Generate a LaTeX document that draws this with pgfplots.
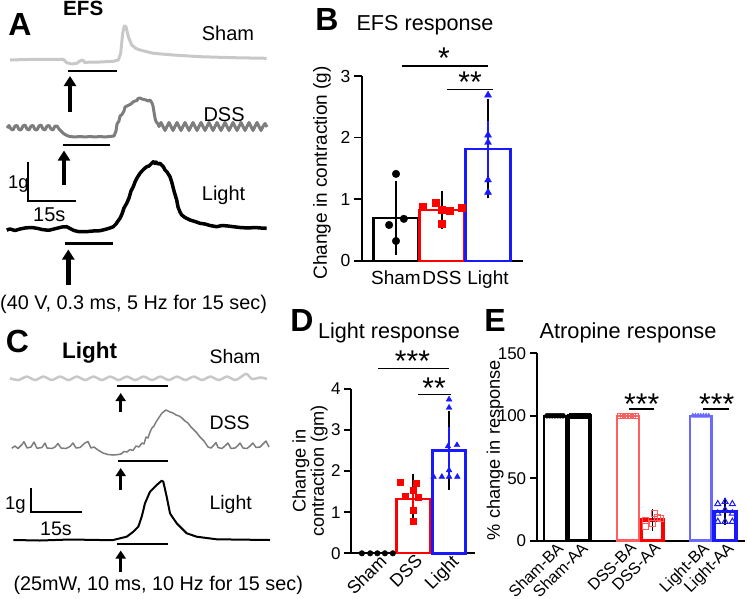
\documentclass[border=0pt]{standalone}
\usepackage{fontspec}
\setmainfont{Liberation Sans}
\usepackage{pgfplots}
\pgfplotsset{compat=1.18}
\usetikzlibrary{arrows.meta}
\definecolor{mred}{RGB}{255,0,0}
\definecolor{mblue}{RGB}{25,25,255}
\definecolor{lred}{RGB}{255,95,95}
\definecolor{lblue}{RGB}{105,105,255}
\definecolor{shamgray}{RGB}{200,200,200}
\definecolor{dssgray}{RGB}{125,125,125}
\newcommand{\fs}[1]{\fontsize{#1}{#1}\selectfont}
\begin{document}
\begin{tikzpicture}
\useasboundingbox (0pt,0pt) rectangle (747pt,598pt);

% ---------------- overlay axis in pixel coordinates (traces & annotations)
\begin{axis}[at={(0pt,0pt)}, anchor=south west, scale only axis,
  width=747pt, height=598pt, xmin=0, xmax=747, ymin=0, ymax=598,
  y dir=reverse, hide axis, clip=false]
% ===== Panel A traces
\addplot[shamgray, line width=3pt, line join=round] coordinates {
(10,60) (33,59.3) (63.3,59.3) (66.7,62.7) (71.7,64) (76.7,63.3) (80,61) (82.7,60) (85,62.7) (90,62) (100,62) (113.3,61.3) (118.3,60) (120.7,53.3) (122.7,33.3) (124.3,26) (126,26.7) (128.3,36.7) (131.7,45) (136,48.5) (140,50) (153.3,53.3) (173.3,55) (200,56.7) (233.3,57.7) (266.7,58.3)};
\addplot[dssgray, line width=3pt, line join=round] coordinates {
(7,128) (9,125.5) (11,129) (13,130) (15,126) (17,125.5) (19,129.5) (21,130) (23,126) (25,125) (27,129) (29,130) (31,126) (33,125.5) (35,129.5) (37,130) (39,126) (41,125) (43,129) (45,130) (47,126) (49,125.5) (51,129) (53,130) (55,126) (57,126) (59,129) (61,131) (63,133) (65,134.5) (67,135.5) (70,136.5) (75,137) (80,136.5) (85,137) (90,136.5) (95,137) (100,136.5) (105,137) (110,136.5) (114,136) (116,131) (117,124) (119,121) (120,116) (122,114.5) (124,111) (125,107) (127,106) (129,105) (131,104) (133,102) (135,101) (137,100.5) (138,98.5) (140,98) (142,99) (144,99.5) (146,100) (148,101) (150,100) (152,103) (153,106) (154,112) (155,118) (156,121.5) (158,124)
(159,126.5) (161,122.5) (163,126.5) (165,130.5) (167,126.5) (169,122.5) (171,126.5) (173,130.5) (175,126.5) (177,122.5) (179,126.5) (181,130.5) (183,126.5) (185,122.5) (187,126.5) (189,130.5) (191,126.5) (193,122.5) (195,126.5) (197,130.5) (199,126.5) (201,122.5) (203,126.5) (205,130.5) (207,126.5) (209,122.5) (211,126.5) (213,130.5) (215,126.5) (217,122.5) (219,126.5) (221,130.5) (223,126.5) (225,122.5) (227,126.5) (229,130.5) (231,126.5) (233,122.5) (235,126.5) (237,130.5) (239,126.5) (241,122.5) (243,126.5) (245,130.5) (247,126.5) (249,122.5) (251,126.5) (253,130.5) (255,126.5) (257,122.5) (259,126.5) (261,130.5) (263,126.5) (265,123.5) (267,127)};
\addplot[black, line width=3.5pt, line join=round] coordinates {
(6.7,230) (10,229) (15,230.5) (20,229) (25,228) (30,227.5) (33.3,227.7) (38,228.5) (42,229.5) (46,230) (50,230) (54,229) (58,228) (62,227) (66.7,226.7) (70,228.5) (74,230.5) (78,231.5) (83.3,231.7) (88,231.5) (93,231) (100,230.7) (105,229.5) (110,228) (113.3,226.7) (116,224) (118,221) (120,218.3) (122,214) (124,208) (126.7,203.3) (129,198) (131,191) (133.3,186.7) (135,182) (137,178) (140,173.3) (142,171) (144,169) (146.7,166.7) (149,166) (151,164) (153.3,161.7) (155,163.5) (156,162) (158,164) (160,163.3) (161.5,165) (163.3,166.7) (165,170) (167,172) (170,176.7) (172,183) (174,191) (176.7,200) (178,207) (180,212) (181.7,215) (185,217.5) (190,220) (195,221.5) (200,223.3) (205,224) (210,225.5) (216.7,226.7) (222,225.5) (228,226) (233.3,226.7) (240,227.5) (248,228) (255,227.5) (261,228) (266.7,228.3)};
% stimulus bars A
\draw[line width=2.5pt] (68.3,71) -- (116.7,71);
\draw[line width=2.5pt] (62.7,145) -- (110,145);
\draw[line width=2.5pt] (65,243.3) -- (112.7,243.3);
% arrows A
\draw[line width=4.5pt, -{Triangle[width=12pt,length=10pt]}] (70,111.7) -- (70,76);
\draw[line width=4.5pt, -{Triangle[width=12pt,length=10pt]}] (64,185) -- (64,150.5);
\draw[line width=4.5pt, -{Triangle[width=12pt,length=10pt]}] (68.3,285) -- (68.3,249.5);
% scale bar A
\draw[line width=2pt] (28.3,161.7) -- (28.3,201) -- (76,201);
\node[anchor=base west, inner sep=0pt, font=\fs{18.5}] at (8,188.3) {1g};
\node[anchor=base west, inner sep=0pt, font=\fs{20}] at (33,221.7) {15s};
\node[anchor=base west, inner sep=0pt, font=\fs{20}] at (201.7,40.7) {Sham};
\node[anchor=base west, inner sep=0pt, font=\fs{20}] at (203.3,121.7) {DSS};
\node[anchor=base west, inner sep=0pt, font=\fs{20}] at (201.7,200) {Light};
\node[anchor=base west, inner sep=0pt, font=\fs{19.8}] at (0,309) {(40 V, 0.3 ms, 5 Hz for 15 sec)};
\node[anchor=base west, inner sep=0pt, font=\bfseries\fs{20.6}] at (63,15) {EFS};
\node[anchor=base, inner sep=0pt, font=\bfseries\fs{32}] at (20,35) {A};

% ===== Panel C traces
\addplot[shamgray, line width=2.5pt, smooth] coordinates {
(10,378.3) (18.4,380) (26.7,376.6) (35.1,380) (43.4,376.6) (51.8,380) (60.1,376.6) (68.5,380) (76.8,376.6) (85.2,380) (93.5,376.6) (101.9,380) (110.2,376.6) (118.6,380) (126.9,376.6) (135.3,380) (143.6,376.6) (152,380) (160.3,376.6) (168.7,380) (177,376.6) (185.4,380) (193.7,376.6) (202.1,380) (210.4,376.6) (218.8,380) (227.1,376.6) (235.5,380) (243.8,375) (247,374) (252.2,379) (260.5,377.5) (267,379)};
\addplot[dssgray, line width=1.5pt, line join=round] coordinates {
(11.7,448.3) (15,446) (18,448.5) (22,444.5) (24,441.7) (27,448) (31,447) (34,442) (37,448.3) (42,447.5) (45,443) (47,448) (52,448.5) (55,447) (58,443.5) (61,448) (66,448.5) (70,446.5) (73,443) (76,448) (80,447.5) (85,443) (88,441.5) (91,448) (94,447) (98,450) (103,453) (108,454.5) (113,455) (117,454.7) (121,454) (124,451.5) (127,452) (130,449.5) (133,450.5) (136,446) (139,447) (142,443) (144,444) (146,437) (148,438) (150,432) (152,428) (154,426) (156,422) (158,419) (160,416) (162,413) (164,411.5) (166,410) (168,411) (170,412) (173,413) (176,415) (179,416) (182,418) (185,421) (188,423) (191,427) (194,430) (197,433) (200,437) (202,439) (204,441) (206,444) (208,447) (211,448) (214,445) (216,442.5) (218,447.5) (222,448.5) (226,445) (228,443) (231,448.5) (235,448) (238,445.5) (240,443) (243,448) (247,448.5) (250,446) (253,443) (256,447.5) (260,447) (263,444) (266,441) (269,447)};
\addplot[black, line width=2pt, line join=round] coordinates {
(13.3,540) (40,540.5) (70,539.5) (100,540) (113.3,540) (120,538.3) (126.7,536.7) (133.3,531.7) (138.3,526.7) (141.7,516.7) (145,503.3) (150,491.7) (156.7,485) (161.7,480.7) (163.3,481.7) (166.7,496.7) (170,513.3) (173.3,518.3) (176.7,523.3) (181.7,528.3) (186.7,533.3) (196.7,536.7) (216.7,539.3) (270,540)};
% stimulus bars C
\draw[line width=2.2pt] (117.3,386) -- (168.3,386);
\draw[line width=2.2pt] (118.3,460.7) -- (168.3,460.7);
\draw[line width=2.2pt] (117.3,544.3) -- (168.3,544.3);
% arrows C
\draw[line width=3.5pt, -{Triangle[width=10pt,length=8pt]}] (120.7,411.7) -- (120.7,393);
\draw[line width=3.5pt, -{Triangle[width=10pt,length=8pt]}] (120.7,490) -- (120.7,468);
\draw[line width=3.5pt, -{Triangle[width=10pt,length=8pt]}] (120.7,571.7) -- (120.7,550.5);
% scale bar C
\draw[line width=2pt] (30.7,488) -- (30.7,511.7) -- (81.7,511.7);
\node[anchor=base west, inner sep=0pt, font=\fs{18.5}] at (5,509.3) {1g};
\node[anchor=base west, inner sep=0pt, font=\fs{19.6}] at (40,535) {15s};
\node[anchor=base west, inner sep=0pt, font=\fs{19.5}] at (209.3,363.3) {Sham};
\node[anchor=base west, inner sep=0pt, font=\fs{19.5}] at (209.3,429.3) {DSS};
\node[anchor=base west, inner sep=0pt, font=\fs{19.5}] at (209.3,509.3) {Light};
\node[anchor=base west, inner sep=0pt, font=\fs{19.8}] at (13.3,590) {(25mW, 10 ms, 10 Hz for 15 sec)};
\node[anchor=base west, inner sep=0pt, font=\bfseries\fs{22.5}] at (62,358.3) {Light};
\node[anchor=base, inner sep=0pt, font=\bfseries\fs{32}] at (17.5,352) {C};

% ===== Titles & letters for B, D, E
\node[anchor=base, inner sep=0pt, font=\bfseries\fs{32}] at (327,30) {B};
\node[anchor=base, inner sep=0pt, font=\fs{21.6}] at (425,30) {EFS response};
\node[anchor=base, inner sep=0pt, font=\bfseries\fs{32}] at (302,331.7) {D};
\node[anchor=base, inner sep=0pt, font=\fs{21.6}] at (389,338.3) {Light response};
\node[anchor=base, inner sep=0pt, font=\bfseries\fs{32}] at (495,331.7) {E};
\node[anchor=base, inner sep=0pt, font=\fs{21.8}] at (628,338.3) {Atropine response};
% significance
\draw[line width=1.6pt] (401.7,66) -- (488,66);
\draw[line width=1.6pt] (447,89.3) -- (493,89.3);
\node[anchor=base, inner sep=0pt, font=\fs{30}] at (444,68.2) {*};
\node[anchor=base, inner sep=0pt, font=\fs{30}] at (470,92.4) {**};
\draw[line width=1.6pt] (378,368.3) -- (449,368.3);
\draw[line width=1.6pt] (418,394.3) -- (451,394.3);
\node[anchor=base, inner sep=0pt, font=\fs{30}] at (412.5,371.4) {***};
\node[anchor=base, inner sep=0pt, font=\fs{30}] at (434,398.4) {**};
\draw[line width=1.6pt] (629,409) -- (654,409);
\draw[line width=1.6pt] (703,409) -- (729,409);
\node[anchor=base, inner sep=0pt, font=\fs{30}] at (641.7,414.9) {***};
\node[anchor=base, inner sep=0pt, font=\fs{30}] at (716.7,414.9) {***};
\end{axis}

% ---------------- Panel B
\begin{axis}[at={(362pt,337.3pt)}, anchor=south west, scale only axis,
  width=161pt, height=184.7pt,
  xmin=-0.739, xmax=2.76, ymin=0, ymax=3,
  axis x line=bottom, axis y line=left,
  axis line style={line width=1.8pt,-},
  xtick={0,1,2}, xticklabels={Sham,DSS,Light},
  ytick={0,1,2,3},
  major x tick style={draw=none},
  major y tick style={line width=1.8pt,black},
  tick align=outside, major tick length=8pt,
  xticklabel style={font=\fs{19}, inner sep=2pt},
  yticklabel style={font=\fs{17.5}},
  /pgf/number format/assume math mode=true,
  ylabel={Change in contraction (g)},
  ylabel style={font=\fs{19}, at={(axis description cs:-0.248,0.475)}, anchor=center},
  clip=false]
\addplot[ybar, bar shift=0pt, bar width=0.98, draw=black, fill=white, line width=2.2pt,
  error bars/.cd, y dir=both, y explicit, error bar style={line width=1.5pt},
  error mark options={line width=1.5pt, mark size=11pt}] coordinates {(0,0.69) +- (0,0.42)};
\addplot[ybar, bar shift=0pt, bar width=0.98, draw=mred, fill=white, line width=2.2pt,
  error bars/.cd, y dir=both, y explicit, error bar style={line width=1.5pt},
  error mark options={line width=1.5pt, mark size=11pt}] coordinates {(1,0.82) +- (0,0.13)};
\addplot[ybar, bar shift=0pt, bar width=0.98, draw=mblue, fill=white, line width=2.2pt,
  error bars/.cd, y dir=both, y explicit, error bar style={line width=1.5pt},
  error mark options={line width=1.5pt, mark size=11pt}] coordinates {(2,1.82) +- (0,0.63)};
\addplot[only marks, mark=*, mark size=3.8pt, black] coordinates {(0,1.41) (0.17,0.68) (-0.15,0.58) (0,0.32)};
\addplot[only marks, mark=square*, mark size=3.5pt, mred] coordinates {(0.57,0.88) (0.86,0.95) (1.17,0.81) (1.43,0.86) (1.0,0.60) (1.0,0.83)};
\addplot[only marks, mark=triangle*, mark size=4pt, mblue] coordinates {(2,2.69) (2,2.04) (2,1.92) (2,1.31) (2,1.11)};
\end{axis}

% ---------------- Panel D
\begin{axis}[at={(351pt,44.7pt)}, anchor=south west, scale only axis,
  width=124pt, height=164.6pt,
  xmin=-0.722, xmax=2.72, ymin=0, ymax=4,
  axis x line=bottom, axis y line=left,
  axis line style={line width=1.8pt,-},
  xtick={0,1,2}, xticklabels={Sham,DSS,Light},
  ytick={0,1,2,3,4},
  major x tick style={draw=none},
  major y tick style={line width=1.8pt,black},
  tick align=outside, major tick length=7pt,
  xticklabel style={font=\fs{18}, rotate=45, anchor=north east, inner sep=1pt, xshift=7pt, yshift=5pt},
  yticklabel style={font=\fs{17}},
  /pgf/number format/assume math mode=true,
  ylabel={Change in\\contraction (gm)},
  ylabel style={font=\fs{18.2}, align=center, at={(axis description cs:-0.33,0.5)}, anchor=center},
  clip=false]
\addplot[ybar, bar shift=0pt, bar width=0.92, draw=mred, fill=white, line width=2.2pt,
  error bars/.cd, y dir=both, y explicit, error bar style={line width=1.5pt},
  error mark options={line width=1.5pt, mark size=8pt}] coordinates {(1,1.31) +- (0,0.42)};
\addplot[ybar, bar shift=0pt, bar width=0.92, draw=mblue, fill=white, line width=2.5pt,
  error bars/.cd, y dir=both, y explicit, error bar style={line width=1.5pt},
  error mark options={line width=1.5pt, mark size=8pt}] coordinates {(2,2.50) +- (0,0.76)};
\addplot[only marks, mark=*, mark size=2.8pt, black] coordinates {(-0.42,0) (-0.19,0) (0.01,0) (0.22,0) (0.44,0)};
\addplot[only marks, mark=square*, mark size=3pt, mred] coordinates {(0.64,1.72) (1.1,1.70) (1.0,1.54) (0.78,1.38) (1.14,1.36) (1.0,1.04) (1.0,0.77)};
\addplot[only marks, mark=triangle*, mark size=3.3pt, mblue] coordinates {(2.0,3.74) (2.0,3.54) (1.97,2.60) (2.22,2.63) (1.57,1.86) (1.8,1.86) (2.0,1.86) (2.23,1.86) (2.0,2.02)};
\end{axis}

% ---------------- Panel E
\begin{axis}[at={(536.7pt,57.3pt)}, anchor=south west, scale only axis,
  width=208.3pt, height=187.4pt,
  xmin=-0.753, xmax=7.82, ymin=0, ymax=150,
  axis x line=bottom, axis y line=left,
  axis line style={line width=1.8pt,-},
  xtick={0,1,3,4,6,7}, xticklabels={Sham-BA,Sham-AA,DSS-BA,DSS-AA,Light-BA,Light-AA},
  ytick={0,50,100,150},
  major x tick style={draw=none},
  major y tick style={line width=1.8pt,black},
  tick align=outside, major tick length=7pt,
  xticklabel style={font=\fs{16.2}, rotate=45, anchor=north east, inner sep=1pt, xshift=6.5pt, yshift=5pt},
  yticklabel style={font=\fs{17}},
  /pgf/number format/assume math mode=true,
  ylabel={\% change in response},
  ylabel style={font=\fs{18.2}, at={(axis description cs:-0.2,0.484)}, anchor=center},
  clip=false]
\addplot[ybar, bar shift=0pt, bar width=0.9, draw=black, fill=white, line width=2pt] coordinates {(0,100)};
\addplot[ybar, bar shift=0pt, bar width=0.9, draw=black, fill=white, line width=3.5pt] coordinates {(1,100)};
\addplot[ybar, bar shift=0pt, bar width=0.9, draw=lred, fill=white, line width=2.5pt] coordinates {(3,100)};
\addplot[ybar, bar shift=0pt, bar width=0.9, draw=mred, fill=white, line width=3.5pt,
  error bars/.cd, y dir=both, y explicit, error bar style={line width=1.3pt},
  error mark options={line width=1.3pt, mark size=6pt}] coordinates {(4,16.5) +- (0,4)};
\addplot[ybar, bar shift=0pt, bar width=0.9, draw=lblue, fill=white, line width=2.5pt] coordinates {(6,100)};
\addplot[ybar, bar shift=0pt, bar width=0.9, draw=mblue, fill=white, line width=3.5pt,
  error bars/.cd, y dir=both, y explicit, error bar style={line width=1.3pt},
  error mark options={line width=1.3pt, mark size=6pt}] coordinates {(7,23.5) +- (0,6)};
\addplot[only marks, mark=*, mark size=2.5pt, black] coordinates {(-0.33,100) (-0.22,100) (-0.11,100) (0,100) (0.11,100) (0.22,100) (0.33,100)};
\addplot[only marks, mark=square*, mark size=2.5pt, black] coordinates {(0.67,100) (0.78,100) (0.89,100) (1,100) (1.11,100) (1.22,100) (1.33,100)};
\addplot[only marks, mark=square, mark size=2.3pt, lred, line width=0.8pt] coordinates {(2.67,100) (2.78,100) (2.89,100) (3,100) (3.11,100) (3.22,100) (3.33,100)};
\addplot[only marks, mark=triangle*, mark size=2.8pt, lblue] coordinates {(5.67,100) (5.78,100) (5.89,100) (6,100) (6.11,100) (6.22,100) (6.33,100)};
\addplot[only marks, mark=square, mark size=3pt, lred, line width=0.9pt] coordinates {(3.71,16.6) (4.08,21.9) (4.0,13.9) (4.36,17.9) (3.74,11.2) (4.2,19)};
\addplot[only marks, mark=triangle, mark size=3.5pt, mblue, line width=1pt] coordinates {(6.7,29.4) (7.0,31.2) (7.3,29.4) (6.7,21.9) (7.0,24.6) (7.3,21.9) (6.7,15.2) (7.0,15.2) (7.3,15.2)};
\end{axis}
\end{tikzpicture}
\end{document}
